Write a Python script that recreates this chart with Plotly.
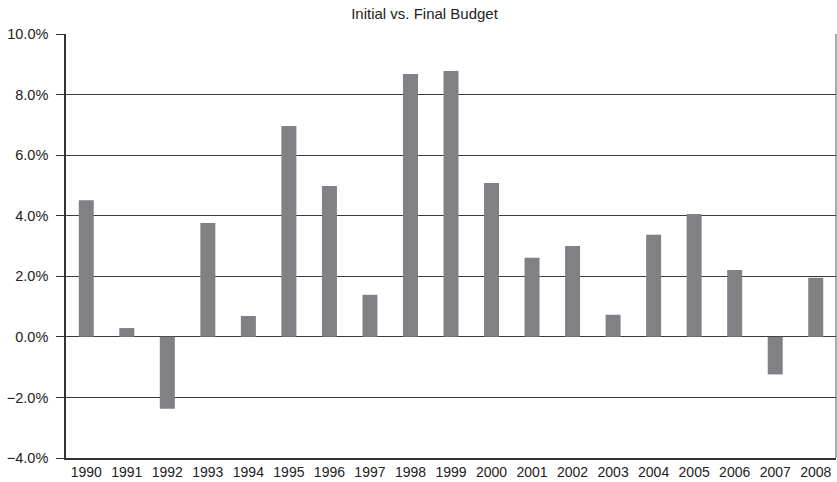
import plotly.graph_objects as go

years = [str(y) for y in range(1990, 2009)]
values = [4.51, 0.29, -2.37, 3.76, 0.69, 6.96, 4.98, 1.39, 8.68, 8.78,
          5.08, 2.61, 3.00, 0.73, 3.37, 4.06, 2.21, -1.24, 1.95]
title_text = "Initial vs. Final Budget"
y_ticks = [-4, -2, 0, 2, 4, 6, 8, 10]
y_tick_labels = ["\u22124.0%", "\u22122.0%", "0.0%", "2.0%", "4.0%", "6.0%", "8.0%", "10.0%"]

W, H = 837, 482
fig = go.Figure(go.Bar(x=years, y=values, marker_color="#818185", marker_line_width=0))

fig.update_layout(
    width=W, height=H,
    margin=dict(l=66, r=1, t=34, b=24, autoexpand=False),
    paper_bgcolor="white", plot_bgcolor="white",
    bargap=0.63,
    font=dict(family="Liberation Sans, Arial, sans-serif", size=13, color="#222"),
    title=dict(text=title_text, x=424.5 / W, xanchor="center", xref="container",
               y=1 - 14 / H, yref="container", yanchor="middle", automargin=False,
               font=dict(size=15, color="#222")),
    showlegend=False,
)
fig.update_yaxes(range=[-4, 10], tickvals=y_ticks, ticktext=y_tick_labels,
                 showgrid=True, gridcolor="#3a3a3a", gridwidth=1,
                 showline=True, linecolor="#333", linewidth=1.5,
                 ticks="outside", ticklen=8, tickcolor="#333", ticklabelstandoff=5,
                 zeroline=False, tickfont=dict(size=14.5), automargin=False)
fig.update_xaxes(showline=True, linecolor="#333", linewidth=1.5, mirror=False,
                 ticks="", tickfont=dict(size=14), type="category", automargin=False)
fig.add_shape(type="line", xref="paper", yref="paper", x0=1, x1=1, y0=0, y1=1,
              line=dict(color="#555", width=1))
fig.write_html("out.html", config={"displayModeBar": False},
               post_script="document.body.style.margin='0';document.body.style.overflow='hidden';")
